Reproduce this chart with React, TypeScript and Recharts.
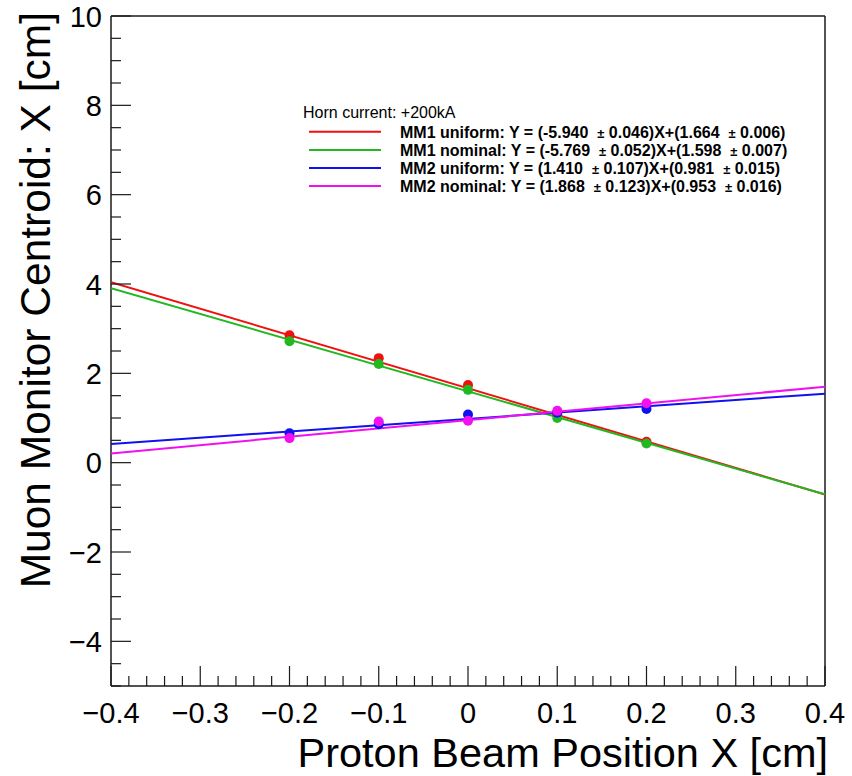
import { ScatterChart, Scatter, XAxis, YAxis, ReferenceLine, Legend } from "recharts";

// measurement points (proton beam position, cm)
const beamX = [-0.2, -0.1, 0, 0.1, 0.2];
const mm1Uniform = [2.85, 2.34, 1.74, 1.08, 0.47];
const mm1Nominal = [2.72, 2.21, 1.63, 1.0, 0.43];
const mm2Uniform = [0.66, 0.86, 1.08, 1.12, 1.2];
const mm2Nominal = [0.55, 0.92, 0.94, 1.16, 1.33];

// fitted straight lines, end values at x = -0.4 and x = 0.4
const fitX = [-0.4, 0.4];
const mm1UniformFit = [4.04, -0.712];
const mm1NominalFit = [3.906, -0.71];
const mm2UniformFit = [0.417, 1.545];
const mm2NominalFit = [0.206, 1.7];

const seriesNames = ["MM1 uniform", "MM1 nominal", "MM2 uniform", "MM2 nominal"];
const slopes = ["-5.940", "-5.769", "1.410", "1.868"];
const slopeErrs = ["0.046", "0.052", "0.107", "0.123"];
const intercepts = ["1.664", "1.598", "0.981", "0.953"];
const interceptErrs = ["0.006", "0.007", "0.015", "0.016"];
const colors = ["#f01010", "#22b822", "#1010f0", "#f010f0"];

const xMajorTicks = [-0.4, -0.3, -0.2, -0.1, 0, 0.1, 0.2, 0.3, 0.4];
const yMajorTicks = [-4, -2, 0, 2, 4, 6, 8, 10];

const xAllTicks: number[] = [];
for (let i = 0; i <= 40; i++) xAllTicks.push(Math.round((-0.4 + i * 0.02) * 100) / 100);
const yAllTicks: number[] = [];
for (let i = 0; i <= 30; i++) yAllTicks.push(-5 + i * 0.5);

const FONT = '"Liberation Sans", Arial, Helvetica, sans-serif';
const AXIS = "#1a1a1a";

const toPoints = (xs: number[], ys: number[]) => xs.map((x, i) => ({ x, y: ys[i] }));
const isMajor = (v: number, list: number[]) => list.some((m) => Math.abs(m - v) < 1e-6);
const minus = (s: string) => s.replace("-", "\u2212");

const points = [mm1Uniform, mm1Nominal, mm2Uniform, mm2Nominal].map((ys) => toPoints(beamX, ys));
const fits = [mm1UniformFit, mm1NominalFit, mm2UniformFit, mm2NominalFit].map((ys) => toPoints(fitX, ys));

const XTick = (props: any) => {
  const { x, y, payload } = props;
  const v = payload.value;
  const major = isMajor(v, xMajorTicks);
  return (
    <g>
      <line x1={x} x2={x} y1={y} y2={y - (major ? 20 : 10)} stroke={AXIS} strokeWidth={1.2} />
      {major && (
        <text x={x} y={y + 37} textAnchor="middle" fontSize={29} fontFamily={FONT} fill="#000">
          {v === 0 ? "0" : minus(v.toFixed(1))}
        </text>
      )}
    </g>
  );
};

const YTick = (props: any) => {
  const { x, y, payload } = props;
  const v = payload.value;
  const major = isMajor(v, yMajorTicks);
  return (
    <g>
      <line x1={x} x2={x + (major ? 20 : 10)} y1={y} y2={y} stroke={AXIS} strokeWidth={1.2} />
      {major && (
        <text x={x - 9} y={y + 10.5} textAnchor="end" fontSize={29} fontFamily={FONT} fill="#000">
          {minus(String(v))}
        </text>
      )}
    </g>
  );
};

const LegendBox = () => (
  <svg width={540} height={100} style={{ display: "block" }}>
    <text x={3} y={18} fontSize={16} fontFamily={FONT} fill="#000">
      Horn current: +200kA
    </text>
    {seriesNames.map((name, i) => (
      <g key={name}>
        <line x1={9} x2={81} y1={31.8 + 18.1 * i} y2={31.8 + 18.1 * i} stroke={colors[i]} strokeWidth={2} />
        <text
          x={100}
          y={37.5 + 18.1 * i}
          fontSize={16}
          fontWeight="bold"
          fontFamily={FONT}
          fill="#000"
          style={{ whiteSpace: "pre" }}
        >
          {`${name}: Y = (${slopes[i]}  `}
          <tspan fontSize={13}>±</tspan>
          {` ${slopeErrs[i]})X+(${intercepts[i]}  `}
          <tspan fontSize={13}>±</tspan>
          {` ${interceptErrs[i]})`}
        </text>
      </g>
    ))}
  </svg>
);

export default function App() {
  return (
    <div style={{ position: "absolute", left: 0, top: 0, width: 852, height: 776, background: "#fff" }}>
      <ScatterChart width={852} height={776} margin={{ top: 16, right: 27, bottom: 0, left: 0 }}>
        <XAxis
          type="number"
          dataKey="x"
          domain={[-0.4, 0.4]}
          ticks={xAllTicks}
          interval={0}
          allowDataOverflow
          height={90}
          tickSize={0}
          tickMargin={0}
          tickLine={false}
          axisLine={{ stroke: AXIS, strokeWidth: 1.5 }}
          tick={<XTick />}
          label={{
            content: (p: any) => {
              const vb = p.viewBox;
              return (
                <text x={vb.x + vb.width + 3} y={vb.y + 81} textAnchor="end" fontSize={41.5} fontFamily={FONT} fill="#000">
                  Proton Beam Position X [cm]
                </text>
              );
            },
          }}
        />
        <YAxis
          type="number"
          dataKey="y"
          domain={[-5, 10]}
          ticks={yAllTicks}
          interval={0}
          allowDataOverflow
          width={111}
          tickSize={0}
          tickMargin={0}
          tickLine={false}
          axisLine={{ stroke: AXIS, strokeWidth: 1.5 }}
          tick={<YTick />}
          label={{
            content: (p: any) => {
              const vb = p.viewBox;
              const tx = 50;
              const ty = vb.y - 4;
              return (
                <text
                  x={tx}
                  y={ty}
                  transform={`rotate(-90, ${tx}, ${ty})`}
                  textAnchor="end"
                  fontSize={42.5}
                  fontFamily={FONT}
                  fill="#000"
                >
                  Muon Monitor Centroid: X [cm]
                </text>
              );
            },
          }}
        />
        <ReferenceLine y={10} stroke={AXIS} strokeWidth={1.5} />
        <ReferenceLine x={0.4} stroke={AXIS} strokeWidth={1.5} />
        {fits.map((d, i) => (
          <Scatter
            key={"fit" + i}
            name={seriesNames[i] + " fit"}
            data={d}
            isAnimationActive={false}
            line={{ stroke: colors[i], strokeWidth: 2 }}
            shape={() => <g />}
          />
        ))}
        {points.map((d, i) => (
          <Scatter
            key={"pts" + i}
            name={seriesNames[i]}
            data={d}
            isAnimationActive={false}
            fill={colors[i]}
            shape={(p: any) => <circle cx={p.cx} cy={p.cy} r={5} fill={colors[i]} />}
          />
        ))}
        <Legend
          layout="vertical"
          verticalAlign="middle"
          align="center"
          wrapperStyle={{ top: 100, left: 300, width: 540, height: 100 }}
          content={() => <LegendBox />}
        />
      </ScatterChart>
    </div>
  );
}
